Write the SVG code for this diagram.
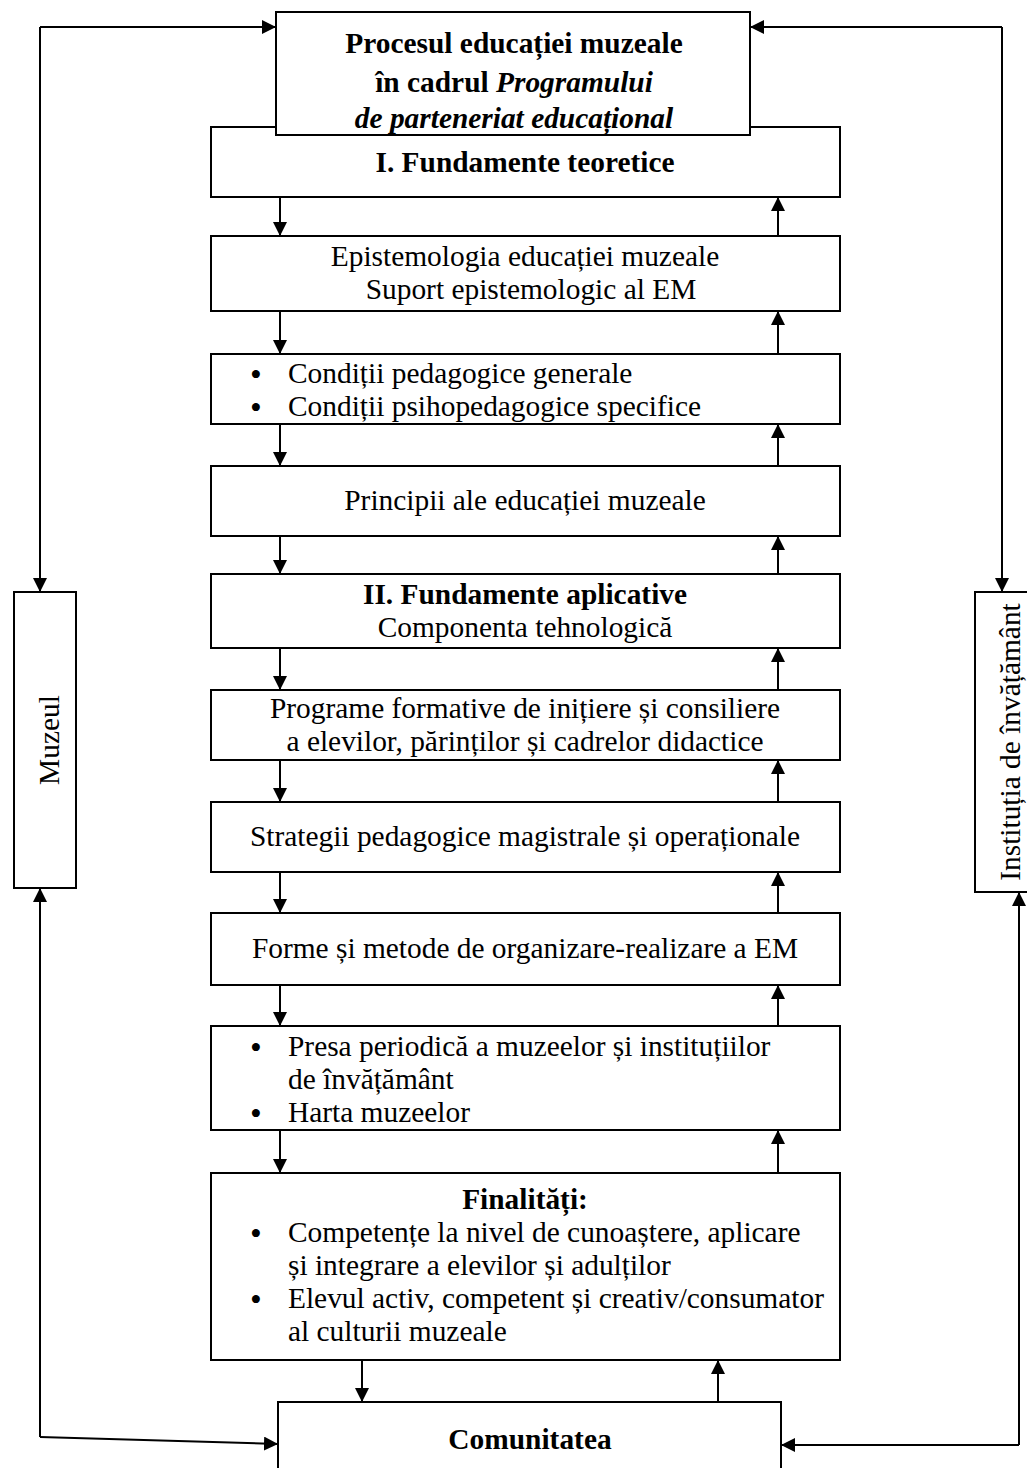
<svg xmlns="http://www.w3.org/2000/svg" width="1027" height="1468" viewBox="0 0 1027 1468">
<style>
.box{fill:#fff;stroke:#000;stroke-width:2}
.t{font-family:"Liberation Serif","Times New Roman",serif;font-size:29.4px;fill:#000}
.c{text-anchor:middle}
.b{font-weight:bold}
.i{font-style:italic}
.bul{font-family:"Liberation Serif","Times New Roman",serif;font-size:29.4px;font-weight:bold;fill:#000;text-anchor:middle}
.conn{stroke:#000;stroke-width:2;fill:none}
</style>
<defs>
<marker id="ah" viewBox="0 0 14 14" refX="14" refY="7" markerWidth="14" markerHeight="14" markerUnits="userSpaceOnUse" orient="auto">
<path d="M0,0 L14,7 L0,14 z" fill="#000"/>
</marker>
</defs>
<rect x="0" y="0" width="1027" height="1468" fill="#fff"/>

<g id="connectors">
<!-- left side -->
<path class="conn" d="M40,27 L40,592" marker-end="url(#ah)"/>
<path class="conn" d="M40,27 L276,27" marker-end="url(#ah)"/>
<path class="conn" d="M40,1437 L40,888" marker-end="url(#ah)"/>
<path class="conn" d="M40,1437 L278,1444" marker-end="url(#ah)"/>
<!-- right side -->
<path class="conn" d="M1002,27 L1002,592" marker-end="url(#ah)"/>
<path class="conn" d="M1002,27 L750,27" marker-end="url(#ah)"/>
<path class="conn" d="M1019,1445 L1019,892" marker-end="url(#ah)"/>
<path class="conn" d="M1019,1445 L781,1445" marker-end="url(#ah)"/>
<!-- central down arrows -->
<path class="conn" d="M280,197 L280,236" marker-end="url(#ah)"/>
<path class="conn" d="M280,311 L280,354" marker-end="url(#ah)"/>
<path class="conn" d="M280,424 L280,466" marker-end="url(#ah)"/>
<path class="conn" d="M280,536 L280,574" marker-end="url(#ah)"/>
<path class="conn" d="M280,648 L280,690" marker-end="url(#ah)"/>
<path class="conn" d="M280,760 L280,802" marker-end="url(#ah)"/>
<path class="conn" d="M280,872 L280,913" marker-end="url(#ah)"/>
<path class="conn" d="M280,985 L280,1026" marker-end="url(#ah)"/>
<path class="conn" d="M280,1130 L280,1173" marker-end="url(#ah)"/>
<path class="conn" d="M362,1360 L362,1402" marker-end="url(#ah)"/>
<!-- central up arrows -->
<path class="conn" d="M778,236 L778,197" marker-end="url(#ah)"/>
<path class="conn" d="M778,354 L778,311" marker-end="url(#ah)"/>
<path class="conn" d="M778,466 L778,424" marker-end="url(#ah)"/>
<path class="conn" d="M778,574 L778,536" marker-end="url(#ah)"/>
<path class="conn" d="M778,690 L778,648" marker-end="url(#ah)"/>
<path class="conn" d="M778,802 L778,760" marker-end="url(#ah)"/>
<path class="conn" d="M778,913 L778,872" marker-end="url(#ah)"/>
<path class="conn" d="M778,1026 L778,985" marker-end="url(#ah)"/>
<path class="conn" d="M778,1173 L778,1130" marker-end="url(#ah)"/>
<path class="conn" d="M718,1402 L718,1360" marker-end="url(#ah)"/>
</g>

<g id="fundamente-teoretice">
<rect class="box" x="211" y="127" width="629" height="70"/>
<text class="t c b" x="525" y="172">I. Fundamente teoretice</text>
</g>

<g id="procesul">
<rect class="box" x="276" y="12" width="474" height="123"/>
<text class="t c b" x="514" y="53">Procesul educației muzeale</text>
<text class="t c b" x="514" y="92">în cadrul <tspan class="i">Programului</tspan></text>
<text class="t c b i" x="514" y="128">de parteneriat educațional</text>
</g>

<g id="epistemologia">
<rect class="box" x="211" y="236" width="629" height="75"/>
<text class="t c" x="525" y="266">Epistemologia educației muzeale</text>
<text class="t c" x="531" y="299">Suport epistemologic al EM</text>
</g>

<g id="conditii">
<rect class="box" x="211" y="354" width="629" height="70"/>
<text class="bul" x="256" y="384">•</text>
<text class="t" x="288" y="383">Condiții pedagogice generale</text>
<text class="bul" x="256" y="417">•</text>
<text class="t" x="288" y="416">Condiții psihopedagogice specifice</text>
</g>

<g id="principii">
<rect class="box" x="211" y="466" width="629" height="70"/>
<text class="t c" x="525" y="510">Principii ale educației muzeale</text>
</g>

<g id="fundamente-aplicative">
<rect class="box" x="211" y="574" width="629" height="74"/>
<text class="t c b" x="525" y="604">II. Fundamente aplicative</text>
<text class="t c" x="525" y="637">Componenta tehnologică</text>
</g>

<g id="programe">
<rect class="box" x="211" y="690" width="629" height="70"/>
<text class="t c" x="525" y="718">Programe formative de inițiere și consiliere</text>
<text class="t c" x="525" y="751">a elevilor, părinților și cadrelor didactice</text>
</g>

<g id="strategii">
<rect class="box" x="211" y="802" width="629" height="70"/>
<text class="t c" x="525" y="846">Strategii pedagogice magistrale și operaționale</text>
</g>

<g id="forme">
<rect class="box" x="211" y="913" width="629" height="72"/>
<text class="t c" x="525" y="958">Forme și metode de organizare-realizare a EM</text>
</g>

<g id="presa">
<rect class="box" x="211" y="1026" width="629" height="104"/>
<text class="bul" x="256" y="1057">•</text>
<text class="t" x="288" y="1056">Presa periodică a muzeelor și instituțiilor</text>
<text class="t" x="288" y="1089">de învățământ</text>
<text class="bul" x="256" y="1123">•</text>
<text class="t" x="288" y="1122">Harta muzeelor</text>
</g>

<g id="finalitati">
<rect class="box" x="211" y="1173" width="629" height="187"/>
<text class="t c b" x="525" y="1209">Finalități:</text>
<text class="bul" x="256" y="1243">•</text>
<text class="t" x="288" y="1242">Competențe la nivel de cunoaștere, aplicare</text>
<text class="t" x="288" y="1275">și integrare a elevilor și adulților</text>
<text class="bul" x="256" y="1309">•</text>
<text class="t" x="288" y="1308">Elevul activ, competent și creativ/consumator</text>
<text class="t" x="288" y="1341">al culturii muzeale</text>
</g>

<g id="comunitatea">
<path class="box" d="M278,1472 L278,1402 L781,1402 L781,1472"/>
<text class="t c b" x="530" y="1449">Comunitatea</text>
</g>

<g id="muzeul">
<rect class="box" x="14" y="592" width="62" height="296"/>
<text class="t c" transform="translate(59,740) rotate(-90)" x="0" y="0">Muzeul</text>
</g>

<g id="institutia">
<rect class="box" x="975" y="592" width="60" height="300"/>
<text class="t c" transform="translate(1020,742) rotate(-90)" x="0" y="0">Instituția de învățământ</text>
</g>
</svg>
